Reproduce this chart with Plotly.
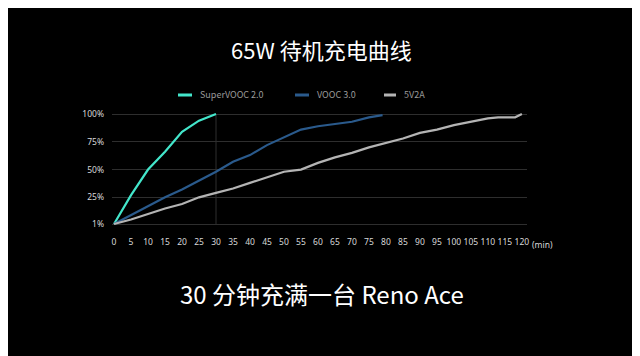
import plotly.graph_objects as go

# Data
super_x = [0, 5, 10, 15, 20, 25, 30]
super_y = [1, 27, 50, 66, 84, 94, 100]

vooc_x = [0, 5, 10, 15, 20, 25, 30, 35, 40, 45, 50, 55, 60, 65, 70, 75, 79]
vooc_y = [1, 9, 17, 25, 32, 40, 48, 57, 63, 72, 79, 86, 89, 91, 93, 97, 99]

std_x = [0, 5, 10, 15, 20, 25, 30, 35, 40, 45, 50, 55, 60, 65, 70, 75, 80, 85, 90, 95, 100, 105, 110, 113, 118, 120]
std_y = [1, 5, 10, 15, 19, 25, 29, 33, 38, 43, 48, 50, 56, 61, 65, 70, 74, 78, 83, 86, 90, 93, 96, 97, 97, 100]

x_ticks = list(range(0, 121, 5))
y_ticks = [1, 25, 50, 75, 100]
y_tick_labels = ["1%", "25%", "50%", "75%", "100%"]

series_names = ["SuperVOOC 2.0", "VOOC 3.0", "5V2A"]
series_colors = ["#43e6cb", "#2a5a8c", "#b4b4b4"]

title_text = "65W 待机充电曲线"
subtitle_text = "30 分钟充满一台 Reno Ace"

FONT = "Noto Sans CJK SC, Noto Sans, sans-serif"
TICK_FONT = "Liberation Sans Narrow, Noto Sans, sans-serif"

W, H = 640, 356
OFF = 8  # page body margin offset
L, R, T, B = 112 - OFF, 640 - 527 + OFF, 110 - OFF, 356 - 228 + OFF
PW, PH = W - L - R, H - T - B


def px_x(p):
    return (p - OFF - L) / PW


def px_y(p):
    return (H - B - (p - OFF)) / PH


fig = go.Figure()
for xs, ys, name, color in zip([super_x, vooc_x, std_x], [super_y, vooc_y, std_y], series_names, series_colors):
    fig.add_trace(go.Scatter(x=xs, y=ys, mode="lines", name=name, showlegend=False,
                             line=dict(color=color, width=2.2), cliponaxis=False))

# vertical guide at SuperVOOC completion time
fig.add_shape(type="line", xref="x", yref="y", x0=super_x[-1], x1=super_x[-1],
              y0=y_ticks[0], y1=y_ticks[-1], line=dict(color="#2e2e2e", width=1), layer="below")

# manual legend
legend_swatch = [(178, 192), (295, 309), (384, 396)]
legend_y = 95
for (a, b), name, color in zip(legend_swatch, series_names, series_colors):
    fig.add_shape(type="line", xref="paper", yref="paper", x0=px_x(a), x1=px_x(b),
                  y0=px_y(legend_y), y1=px_y(legend_y), line=dict(color=color, width=3))
    fig.add_annotation(text=name, xref="paper", yref="paper", x=px_x(b + 6), y=px_y(legend_y),
                       xanchor="left", yanchor="middle", showarrow=False,
                       font=dict(family=FONT, size=9, color="#9a9a9a"))

fig.add_annotation(text="(min)", xref="x", yref="paper", x=x_ticks[-1], y=0, xanchor="left",
                   yanchor="top", xshift=8, yshift=-9, showarrow=False,
                   font=dict(family=TICK_FONT, size=8.5, color="#d8d8d8"))

fig.add_annotation(text=title_text, xref="paper", yref="paper", x=px_x(321), y=px_y(49),
                   yanchor="middle", xanchor="center", showarrow=False,
                   font=dict(family=FONT, size=22, color="#ffffff"))
fig.add_annotation(text=subtitle_text, xref="paper", yref="paper", x=px_x(322), y=px_y(293),
                   yanchor="middle", xanchor="center", showarrow=False,
                   font=dict(family=FONT, size=24, color="#ffffff"))

fig.update_layout(
    width=W, height=H,
    paper_bgcolor="#000000", plot_bgcolor="#000000",
    margin=dict(l=L, r=R, t=T, b=B, autoexpand=False),
    showlegend=False,
    font=dict(family=FONT),
)

fig.update_xaxes(range=[-0.6, 121.5], tickvals=x_ticks, showgrid=False, zeroline=False,
                 showline=False, ticks="", tickfont=dict(family=TICK_FONT, size=8.5, color="#d8d8d8"),
                 ticklabelstandoff=7, automargin=False)
fig.update_yaxes(range=[-2.6, 103.6], tickvals=y_ticks, ticktext=y_tick_labels, showgrid=True,
                 gridcolor="#2e2e2e", gridwidth=1, zeroline=False, showline=False, ticks="",
                 tickfont=dict(family=TICK_FONT, size=8.5, color="#d8d8d8"), ticklabelstandoff=7,
                 automargin=False)

fig.write_html("out.html")
